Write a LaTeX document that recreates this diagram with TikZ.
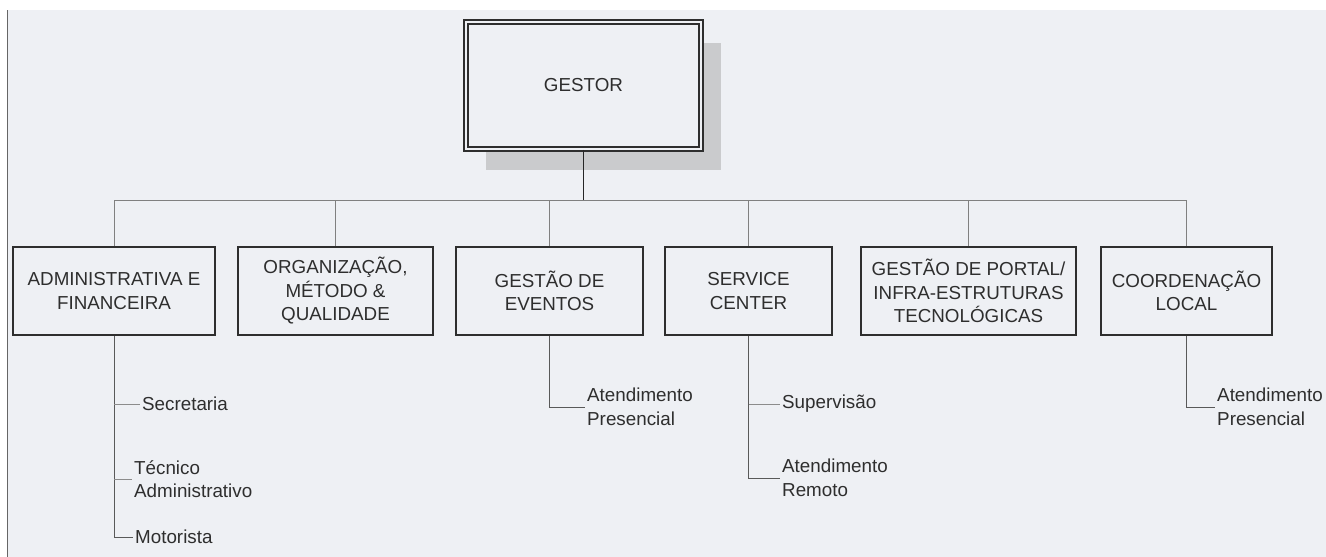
\documentclass[tikz,border=0pt]{standalone}
\usepackage{fontspec}
\setmainfont{Liberation Sans}
\usetikzlibrary{shadows}
\definecolor{paper}{HTML}{EEF0F4}
\definecolor{ink}{HTML}{2E2E2E}
\definecolor{shade}{HTML}{CACBCD}
\begin{document}
\begin{tikzpicture}[x=1pt,y=-1pt]
\tikzset{unit/.style={draw=ink,line width=1.6pt,fill=paper,align=center,text=ink,
  inner sep=0pt,font=\fontsize{18.8}{23.5}\selectfont}}
\tikzset{role/.style={anchor=west,align=left,text=ink,inner sep=2pt,
  font=\fontsize{18.8}{23.5}\selectfont}}
\tikzset{link/.style={draw=black!50,line width=0.9pt}}
\tikzset{stem/.style={draw=black!65,line width=1pt}}
\tikzset{twig/.style={draw=black!45,line width=0.9pt}}
%page
\useasboundingbox (0,0) rectangle (1326,557);
\fill[white](0,0) rectangle (1326,557);
\fill[paper](7,10) rectangle (1326,557);
\draw[black!60,line width=1.3pt](7.5,10)--(7.5,557);
%head
\node[unit,double=paper,double distance=2.6pt,line width=1.8pt,minimum width=235pt,
  minimum height=127pt,drop shadow={shadow xshift=20pt,shadow yshift=-21pt,
  fill=shade,opacity=1}] (gestor) at (583.5,85.5) {GESTOR};
\coordinate (bus) at (0,200);
%units
\foreach \uName/\xLoc/\bW/\uText in {
  admin/114/202/{ADMINISTRATIVA E\\FINANCEIRA},
  quality/335.5/195/{ORGANIZAÇÃO,\\MÉTODO \&\\QUALIDADE},
  events/549.5/187/{GESTÃO DE\\EVENTOS},
  service/748.5/167/{SERVICE\\CENTER},
  portal/968.5/215/{GESTÃO DE PORTAL/\\INFRA-ESTRUTURAS\\TECNOLÓGICAS},
  local/1186.5/171/{COORDENAÇÃO\\LOCAL}}{
\node[unit,minimum width=\bW pt,minimum height=88pt] (\uName) at (\xLoc,291) {\uText};
\draw[link] (\uName.north) -- (\uName.north |- bus);}
%bus and trunk
\draw[link] (admin.north |- bus) -- (local.north |- bus);
\draw[draw=black!85,line width=1.3pt] (gestor.south) -- (gestor.south |- bus);
%sub-units
\node[role] (sec) at (140,404) {Secretaria};
\node[role] (tec) at (132,479) {Técnico\\Administrativo};
\node[role] (mot) at (133,537) {Motorista};
\node[role] (pres1) at (585,407) {Atendimento\\Presencial};
\node[role] (sup) at (780,404) {Supervisão};
\node[role] (rem) at (780,478) {Atendimento\\Remoto};
\node[role] (pres2) at (1215,407) {Atendimento\\Presencial};
\draw[stem] (admin.south) |- (mot.west);
\draw[twig] (admin.south |- sec.west) -- (sec.west);
\draw[twig] (admin.south |- tec.west) -- (tec.west);
\draw[stem] (events.south) |- (pres1.west);
\draw[stem] (service.south) |- (rem.west);
\draw[twig] (service.south |- sup.west) -- (sup.west);
\draw[stem] (local.south) |- (pres2.west);
\end{tikzpicture}
\end{document}
